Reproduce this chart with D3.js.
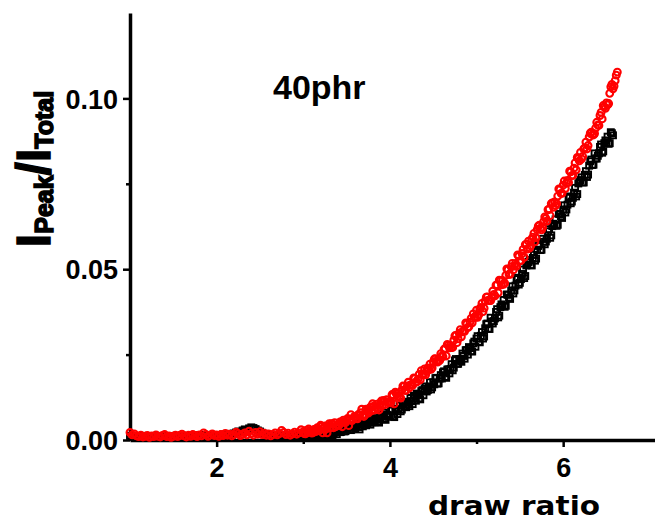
<!DOCTYPE html>
<html>
<head>
<meta charset="utf-8">
<script src="https://cdn.jsdelivr.net/npm/d3@7"></script>
<style>
  html, body { margin: 0; padding: 0; background: #fff; }
  svg { display: block; }
</style>
</head>
<body>
<svg id="chart" width="655" height="521"></svg>
<script>
// ---- data ----
const drawRatio = [
  1.000,1.025,1.050,1.075,1.100,1.125,1.150,1.175,
  1.200,1.225,1.250,1.275,1.300,1.325,1.350,1.375,
  1.400,1.425,1.450,1.475,1.500,1.525,1.550,1.575,
  1.600,1.625,1.650,1.675,1.700,1.725,1.750,1.775,
  1.800,1.825,1.850,1.875,1.900,1.925,1.950,1.975,
  2.000,2.025,2.050,2.075,2.100,2.125,2.150,2.175,
  2.200,2.225,2.250,2.275,2.300,2.325,2.350,2.375,
  2.400,2.425,2.450,2.475,2.500,2.525,2.550,2.575,
  2.600,2.625,2.650,2.675,2.700,2.725,2.750,2.775,
  2.800,2.825,2.850,2.875,2.900,2.925,2.950,2.975,
  3.000,3.025,3.050,3.075,3.100,3.125,3.150,3.175,
  3.200,3.225,3.250,3.275,3.300,3.325,3.350,3.375,
  3.400,3.425,3.450,3.475,3.500,3.525,3.550,3.575,
  3.600,3.625,3.650,3.675,3.700,3.725,3.750,3.775,
  3.800,3.825,3.850,3.875,3.900,3.925,3.950,3.975,
  4.000,4.025,4.050,4.075,4.100,4.125,4.150,4.175,
  4.200,4.225,4.250,4.275,4.300,4.325,4.350,4.375,
  4.400,4.425,4.450,4.475,4.500,4.525,4.550,4.575,
  4.600,4.625,4.650,4.675,4.700,4.725,4.750,4.775,
  4.800,4.825,4.850,4.875,4.900,4.925,4.950,4.975,
  5.000,5.025,5.050,5.075,5.100,5.125,5.150,5.175,
  5.200,5.225,5.250,5.275,5.300,5.325,5.350,5.375,
  5.400,5.425,5.450,5.475,5.500,5.525,5.550,5.575,
  5.600,5.625,5.650,5.675,5.700,5.725,5.750,5.775,
  5.800,5.825,5.850,5.875,5.900,5.925,5.950,5.975,
  6.000,6.025,6.050,6.075,6.100,6.125,6.150,6.175,
  6.200,6.225,6.250,6.275,6.300,6.325,6.350,6.375,
  6.400,6.425,6.450,6.475,6.500,6.525,6.550,6.575,
  6.600,6.625
];

// interleaved readings in the rising part
const drawRatioMid = [
  3.0125,3.0375,3.0625,3.0875,3.1125,3.1375,3.1625,3.1875,
  3.2125,3.2375,3.2625,3.2875,3.3125,3.3375,3.3625,3.3875,
  3.4125,3.4375,3.4625,3.4875,3.5125,3.5375,3.5625,3.5875,
  3.6125,3.6375,3.6625,3.6875,3.7125,3.7375,3.7625,3.7875,
  3.8125,3.8375,3.8625,3.8875,3.9125,3.9375,3.9625,3.9875,
  4.0125,4.0375,4.0625,4.0875,4.1125,4.1375,4.1625,4.1875,
  4.2125,4.2375,4.2625,4.2875,4.3125,4.3375,4.3625,4.3875,
  4.4125,4.4375,4.4625,4.4875,4.5125,4.5375,4.5625,4.5875,
  4.6125,4.6375,4.6625,4.6875,4.7125,4.7375,4.7625,4.7875,
  4.8125,4.8375,4.8625,4.8875,4.9125,4.9375,4.9625,4.9875,
  5.0125,5.0375,5.0625,5.0875,5.1125,5.1375,5.1625,5.1875,
  5.2125,5.2375,5.2625,5.2875,5.3125,5.3375,5.3625,5.3875,
  5.4125,5.4375,5.4625,5.4875,5.5125,5.5375,5.5625,5.5875,
  5.6125,5.6375,5.6625,5.6875,5.7125,5.7375,5.7625,5.7875,
  5.8125,5.8375,5.8625,5.8875,5.9125,5.9375,5.9625,5.9875,
  6.0125,6.0375,6.0625,6.0875,6.1125,6.1375,6.1625,6.1875,
  6.2125,6.2375,6.2625,6.2875,6.3125,6.3375,6.3625,6.3875,
  6.4125,6.4375,6.4625,6.4875,6.5125,6.5375,6.5625,6.5875,
  6.6125
];

// black open squares
const blackRatio = [
  .0012,.0009,.0011,.0007,.0010,.0008,.0012,.0009,
  .0006,.0010,.0008,.0011,.0009,.0007,.0010,.0012,
  .0008,.0010,.0007,.0011,.0009,.0012,.0008,.0010,
  .0013,.0009,.0011,.0008,.0012,.0010,.0014,.0009,
  .0011,.0013,.0010,.0015,.0012,.0009,.0013,.0011,
  .0014,.0010,.0013,.0016,.0012,.0015,.0018,.0014,
  .0019,.0022,.0025,.0023,.0028,.0031,.0029,.0034,
  .0037,.0035,.0032,.0028,.0025,.0021,.0018,.0016,
  .0014,.0012,.0015,.0011,.0013,.0010,.0012,.0014,
  .0011,.0013,.0010,.0012,.0014,.0011,.0013,.0010,
  .0012,.0009,.0011,.0008,.0010,.0007,.0009,.0006,
  .0008,.0010,.0012,.0014,.0016,.0019,.0018,.0023,
  .0027,.0023,.0034,.0025,.0033,.0043,.0029,.0037,
  .0034,.0048,.0031,.0049,.0056,.0043,.0051,.0045,
  .0063,.0052,.0060,.0051,.0070,.0080,.0059,.0073,
  .0070,.0089,.0067,.0091,.0089,.0084,.0109,.0098,
  .0111,.0099,.0114,.0130,.0115,.0132,.0119,.0146,
  .0151,.0142,.0154,.0148,.0169,.0181,.0165,.0180,
  .0180,.0201,.0182,.0207,.0208,.0204,.0233,.0223,
  .0237,.0229,.0246,.0263,.0250,.0269,.0259,.0288,
  .0297,.0287,.0305,.0297,.0327,.0341,.0325,.0347,
  .0348,.0375,.0359,.0389,.0393,.0390,.0426,.0417,
  .0437,.0429,.0452,.0475,.0460,.0486,.0474,.0511,
  .0521,.0512,.0533,.0525,.0556,.0573,.0557,.0580,
  .0581,.0611,.0592,.0626,.0629,.0627,.0662,.0655,
  .0674,.0666,.0689,.0713,.0698,.0724,.0713,.0751,
  .0761,.0754,.0776,.0770,.0803,.0821,.0806,.0824,
  .0832,.0858,.0841,.0869,.0872,.0867,.0901,.0892
];
const blackRatioMid = [
  .0012,.0008,.0011,.0006,.0011,.0007,.0013,.0008,
  .0010,.0014,.0011,.0017,.0021,.0014,.0024,.0017,
  .0030,.0024,.0034,.0026,.0030,.0039,.0031,.0042,
  .0045,.0038,.0047,.0040,.0053,.0047,.0059,.0051,
  .0055,.0064,.0055,.0066,.0069,.0063,.0074,.0068,
  .0086,.0070,.0090,.0076,.0101,.0089,.0112,.0096,
  .0104,.0123,.0105,.0129,.0136,.0122,.0143,.0131,
  .0157,.0146,.0169,.0154,.0163,.0182,.0166,.0190,
  .0198,.0185,.0206,.0195,.0222,.0212,.0237,.0223,
  .0233,.0253,.0238,.0263,.0272,.0260,.0283,.0273,
  .0304,.0286,.0316,.0303,.0339,.0326,.0358,.0341,
  .0356,.0383,.0364,.0397,.0410,.0393,.0425,.0413,
  .0450,.0438,.0471,.0455,.0471,.0499,.0480,.0514,
  .0527,.0511,.0542,.0531,.0568,.0556,.0589,.0573,
  .0589,.0617,.0599,.0633,.0646,.0630,.0661,.0650,
  .0687,.0675,.0709,.0693,.0709,.0738,.0720,.0755,
  .0769,.0754,.0787,.0777,.0816,.0805,.0839,.0824,
  .0839,.0865,.0845,.0877,.0888,.0869,.0898
];

// red open circles
const redRatio = [
  .0022,.0015,.0018,.0012,.0010,.0014,.0009,.0011,
  .0013,.0008,.0012,.0010,.0015,.0011,.0009,.0013,
  .0016,.0010,.0012,.0008,.0011,.0014,.0010,.0013,
  .0017,.0012,.0009,.0014,.0011,.0016,.0013,.0010,
  .0015,.0012,.0021,.0016,.0011,.0014,.0018,.0013,
  .0015,.0011,.0016,.0013,.0019,.0014,.0017,.0012,
  .0016,.0023,.0018,.0013,.0017,.0021,.0015,.0026,
  .0019,.0014,.0022,.0017,.0024,.0016,.0020,.0014,
  .0018,.0012,.0016,.0021,.0015,.0019,.0028,.0022,
  .0016,.0020,.0014,.0018,.0023,.0017,.0021,.0030,
  .0024,.0018,.0022,.0026,.0020,.0031,.0025,.0029,
  .0043,.0021,.0041,.0021,.0048,.0048,.0036,.0039,
  .0044,.0053,.0039,.0052,.0057,.0042,.0074,.0061,
  .0068,.0062,.0072,.0090,.0069,.0090,.0079,.0096,
  .0106,.0088,.0105,.0088,.0114,.0116,.0104,.0110,
  .0113,.0133,.0106,.0136,.0136,.0123,.0158,.0145,
  .0158,.0153,.0162,.0182,.0170,.0178,.0176,.0193,
  .0208,.0201,.0206,.0207,.0229,.0238,.0228,.0233,
  .0246,.0265,.0246,.0277,.0277,.0271,.0305,.0285,
  .0313,.0302,.0320,.0343,.0329,.0345,.0343,.0360,
  .0380,.0366,.0388,.0376,.0407,.0419,.0408,.0416,
  .0426,.0453,.0431,.0466,.0467,.0459,.0501,.0485,
  .0507,.0498,.0517,.0542,.0525,.0546,.0535,.0573,
  .0582,.0568,.0594,.0580,.0616,.0629,.0615,.0639,
  .0649,.0674,.0657,.0694,.0697,.0692,.0735,.0722,
  .0746,.0736,.0760,.0787,.0774,.0796,.0791,.0824,
  .0842,.0830,.0855,.0852,.0887,.0901,.0893,.0913,
  .0922,.0950,.0940,.0975,.0987,.0985,.1034,.1028,
  .1052,.1077
];
const redRatioMid = [
  .0019,.0029,.0032,.0024,.0022,.0031,.0036,.0028,
  .0040,.0035,.0032,.0042,.0036,.0047,.0051,.0044,
  .0043,.0053,.0058,.0051,.0063,.0059,.0057,.0068,
  .0063,.0075,.0080,.0074,.0074,.0085,.0091,.0085,
  .0099,.0095,.0094,.0105,.0101,.0113,.0118,.0112,
  .0109,.0131,.0140,.0128,.0127,.0146,.0157,.0145,
  .0169,.0161,.0160,.0180,.0170,.0192,.0203,.0191,
  .0191,.0211,.0222,.0211,.0237,.0231,.0231,.0253,
  .0244,.0268,.0280,.0270,.0271,.0292,.0306,.0296,
  .0323,.0317,.0318,.0340,.0332,.0356,.0369,.0359,
  .0359,.0384,.0400,.0386,.0418,.0409,.0408,.0436,
  .0422,.0454,.0468,.0454,.0456,.0482,.0498,.0485,
  .0517,.0509,.0509,.0538,.0525,.0558,.0572,.0559,
  .0562,.0588,.0605,.0592,.0626,.0620,.0622,.0653,
  .0641,.0676,.0692,.0681,.0686,.0714,.0733,.0722,
  .0758,.0752,.0754,.0785,.0775,.0811,.0827,.0817,
  .0823,.0852,.0872,.0862,.0898,.0894,.0897,.0930,
  .0921,.0959,.0979,.0971,.0981,.1015,.1041,.1036,
  .1068
];

const xTicks = [2, 4, 6];
const xMinorTicks = [3, 5];
const yTicks = [0.00, 0.05, 0.10];
const yMinorTicks = [0.025, 0.075];
const panelLabel = "40phr";
const xTitle = "draw ratio";

// ---- chart ----
const svg = d3.select("#chart");
const x = d3.scaleLinear().domain([1, 7.06]).range([130, 655]);
const y = d3.scaleLinear().domain([0, 0.125]).range([440, 13]);

const tickFont = "'Liberation Sans', Arial, sans-serif";

// minor ticks
svg.append("g")
  .attr("transform", "translate(0,440)")
  .call(d3.axisBottom(x).tickValues(xMinorTicks).tickSize(4).tickFormat(""))
  .call(g => g.select(".domain").remove())
  .call(g => g.selectAll("line").attr("stroke", "#000").attr("stroke-width", 2.5));
svg.append("g")
  .attr("transform", "translate(130,0)")
  .call(d3.axisLeft(y).tickValues(yMinorTicks).tickSize(4).tickFormat(""))
  .call(g => g.select(".domain").remove())
  .call(g => g.selectAll("line").attr("stroke", "#000").attr("stroke-width", 2.5));

// major axes
const xAxis = svg.append("g")
  .attr("transform", "translate(0,440)")
  .call(d3.axisBottom(x).tickValues(xTicks).tickSize(7).tickSizeOuter(0).tickPadding(11).tickFormat(d3.format("d")));
const yAxis = svg.append("g")
  .attr("transform", "translate(130,0)")
  .call(d3.axisLeft(y).tickValues(yTicks).tickSize(7).tickSizeOuter(0).tickPadding(5).tickFormat(d3.format(".2f")));

[xAxis, yAxis].forEach(g => {
  g.select(".domain").attr("stroke", "#000").attr("stroke-width", 3.5);
  g.selectAll(".tick line").attr("stroke", "#000").attr("stroke-width", 2.5);
  g.selectAll(".tick text")
    .attr("fill", "#000")
    .style("font-family", tickFont)
    .style("font-weight", "bold")
    .style("font-size", "27px");
});
yAxis.selectAll(".tick text").attr("dy", "0.36em");

// data marks
const toPoints = (xs, ys) => ys.map((v, i) => ({ x: xs[i], y: v }));
const blackData = toPoints(drawRatio, blackRatio)
  .concat(toPoints(drawRatioMid, blackRatioMid))
  .sort((a, b) => a.x - b.x);
const redData = toPoints(drawRatio, redRatio)
  .concat(toPoints(drawRatioMid, redRatioMid))
  .sort((a, b) => a.x - b.x);

const sq = 6;
svg.append("g").selectAll("rect")
  .data(blackData)
  .join("rect")
  .attr("x", d => x(d.x) - sq / 2)
  .attr("y", d => y(d.y) - sq / 2)
  .attr("width", sq)
  .attr("height", sq)
  .attr("fill", "none")
  .attr("stroke", "#000")
  .attr("stroke-width", 1.9);

svg.append("g").selectAll("circle")
  .data(redData)
  .join("circle")
  .attr("cx", d => x(d.x))
  .attr("cy", d => y(d.y))
  .attr("r", 3.4)
  .attr("fill", "none")
  .attr("stroke", "#ff0000")
  .attr("stroke-width", 2.1);

// panel label
svg.append("text")
  .attr("x", 273)
  .attr("y", 99)
  .style("font-family", tickFont)
  .style("font-weight", "bold")
  .style("font-size", "34px")
  .attr("fill", "#000")
  .text(panelLabel);

// x title
svg.append("text")
  .attr("x", 428)
  .attr("y", 515)
  .attr("textLength", 172)
  .attr("lengthAdjust", "spacingAndGlyphs")
  .style("font-family", "'DejaVu Sans', Verdana, sans-serif")
  .style("font-weight", "bold")
  .style("font-size", "27px")
  .attr("fill", "#000")
  .text(xTitle);

// y title: I_Peak / I_Total
const yt = svg.append("text")
  .attr("transform", "translate(50,169) rotate(-90)")
  .attr("text-anchor", "middle")
  .style("font-family", tickFont)
  .style("font-weight", "bold")
  .attr("fill", "#000")
  .attr("stroke", "#000")
  .attr("stroke-width", 1.5);
yt.append("tspan").style("font-size", "48px").text("I");
yt.append("tspan").style("font-size", "25px").attr("dy", 3).text("Peak");
yt.append("tspan").style("font-size", "48px").attr("dy", -3).text("/I");
yt.append("tspan").style("font-size", "25px").attr("dy", 3).text("Total");
</script>
</body>
</html>
